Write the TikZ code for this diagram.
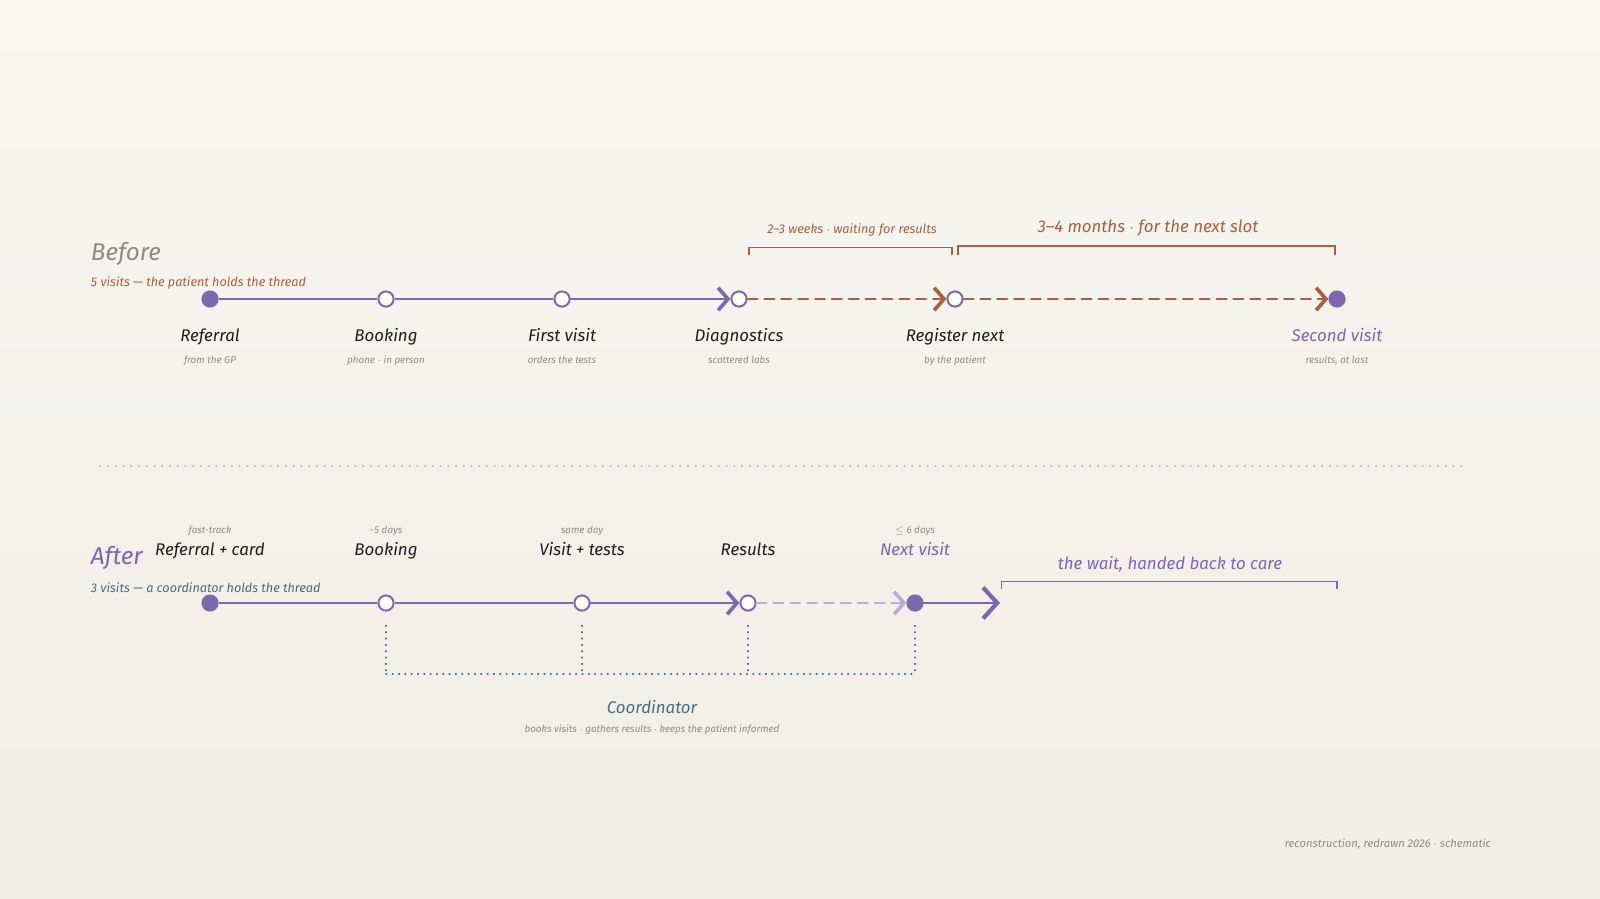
\documentclass[tikz,border=0pt]{standalone}
\usepackage{fontspec}
\setmainfont{Fira Sans}
\usetikzlibrary{arrows.meta}
\definecolor{plum}{HTML}{7B68AE}
\definecolor{plumlight}{HTML}{B9AED6}
\definecolor{rust}{HTML}{A8613F}
\definecolor{ash}{HTML}{8E8C84}
\definecolor{ink}{HTML}{1E1E1E}
\definecolor{slate}{HTML}{4E6A80}
\definecolor{paperA}{HTML}{F8F6F1}
\definecolor{paperB}{HTML}{F0EDE5}
\tikzset{
  stop/.style={circle,draw=plum,line width=1.4pt,fill=white,minimum size=0.38cm,inner sep=0pt},
  hub/.style={stop,fill=plum},
  stepname/.style={font=\itshape\large,text=ink,anchor=base},
  sub/.style={font=\itshape\scriptsize,text=ash,anchor=base},
  leg/.style={line width=1.6pt,line cap=round,draw=plum,-{Straight Barb[length=7pt,width=16pt,line width=2.6pt]}},
  wait/.style={leg,draw=rust,dash pattern=on 7pt off 5pt},
  brace/.style={line width=1pt}
}
\begin{document}
\begin{tikzpicture}[x=1cm,y=1cm]
\shade[top color=paperA,bottom color=paperB] (0,0) rectangle (40,-22.45);
\useasboundingbox (0,0) rectangle (40,-22.45);

% before
\node[anchor=west,font=\itshape\LARGE,text=ash] at (2.15,-6.35) {Before};
\node[anchor=west,font=\itshape\small,text=rust] at (2.15,-7.08) {5 visits --- the patient holds the thread};
\node[hub]  (b1) at (5.25,-7.475) {};
\node[stop] (b2) at (9.65,-7.475) {};
\node[stop] (b3) at (14.05,-7.475) {};
\node[stop] (b4) at (18.475,-7.475) {};
\node[stop] (b5) at (23.875,-7.475) {};
\node[hub]  (b6) at (33.425,-7.475) {};
\draw[line width=1.6pt,draw=plum] (b1) -- (b2) -- (b3);
\draw[leg] (b3) -- (b4);
\draw[wait] (b4) -- (b5);
\draw[wait] (b5) -- (b6);
\foreach \n/\t/\s in {b1/Referral/from the GP, b2/Booking/phone $\cdot$ in person, b3/First visit/orders the tests, b4/Diagnostics/scattered labs, b5/Register next/by the patient}{
  \node[stepname] at ([yshift=-1.05cm]\n) {\t};
  \node[sub] at ([yshift=-1.6cm]\n) {\s};
}
\node[stepname,text=plum] at ([yshift=-1.05cm]b6) {Second visit};
\node[sub] at ([yshift=-1.6cm]b6) {results, at last};
\draw[brace,rust] (18.72,-6.38) -- (18.72,-6.18) -- (23.8,-6.18) -- (23.8,-6.38);
\draw[brace,rust] (23.95,-6.38) -- (23.95,-6.15) -- (33.37,-6.15) -- (33.37,-6.38);
\node[font=\itshape\small,text=rust] at (21.3,-5.75) {2--3 weeks $\cdot$ waiting for results};
\node[font=\itshape\large,text=rust] at (28.7,-5.7) {3--4 months $\cdot$ for the next slot};

\draw[ash!60,line width=1pt,dash pattern=on 0.5pt off 5pt,line cap=round] (2.5,-11.65) -- (36.6,-11.65);

% after
\node[anchor=west,font=\itshape\LARGE,text=plum] at (2.15,-13.95) {After};
\node[anchor=west,font=\itshape\small,text=slate] at (2.15,-14.68) {3 visits --- a coordinator holds the thread};
\node[hub]  (a1) at (5.25,-15.075) {};
\node[stop] (a2) at (9.65,-15.075) {};
\node[stop] (a3) at (14.55,-15.075) {};
\node[stop] (a4) at (18.7,-15.075) {};
\node[hub]  (a5) at (22.875,-15.075) {};
\coordinate (a6) at (25,-15.075);
\draw[line width=1.6pt,draw=plum] (a1) -- (a2) -- (a3);
\draw[leg] (a3) -- (a4);
\draw[leg,draw=plumlight,dash pattern=on 7pt off 5pt] (a4) -- (a5);
\draw[leg,-{Straight Barb[length=10pt,width=22pt,line width=3pt]}] (a5) -- (a6);
\foreach \n/\t/\s in {a1/Referral + card/fast-track, a2/Booking/\textasciitilde5 days, a3/Visit + tests/same day, a4/Results/}{
  \node[stepname] at ([yshift=1.2cm]\n) {\t};
  \node[sub] at ([yshift=1.75cm]\n) {\s};
}
\node[stepname,text=plum] at ([yshift=1.2cm]a5) {Next visit};
\node[sub] at ([yshift=1.75cm]a5) {$\leq$ 6 days};
\draw[brace,plum] (25.03,-14.73) -- (25.03,-14.53) -- (33.42,-14.53) -- (33.42,-14.73);
\node[font=\itshape\large,text=plum] at (29.25,-14.1) {the wait, handed back to care};

% coordinator
\coordinate (c) at (16.3,-16.85);
\foreach \n in {a2,a3,a4,a5}
  \draw[slate,line width=1pt,dash pattern=on 0.5pt off 4pt,line cap=round] (\n.south) ++(0,-0.35) -- (\n |- c);
\draw[slate,line width=1pt,dash pattern=on 0.5pt off 4pt,line cap=round] (a2 |- c) -- (a5 |- c);
\node[font=\itshape\large,text=slate] at (16.3,-17.68) {Coordinator};
\node[sub,anchor=center] at (16.3,-18.25) {books visits $\cdot$ gathers results $\cdot$ keeps the patient informed};

\node[sub,anchor=east,font=\itshape\footnotesize] at (37.4,-21.1) {reconstruction, redrawn 2026 $\cdot$ schematic};
\end{tikzpicture}
\end{document}
